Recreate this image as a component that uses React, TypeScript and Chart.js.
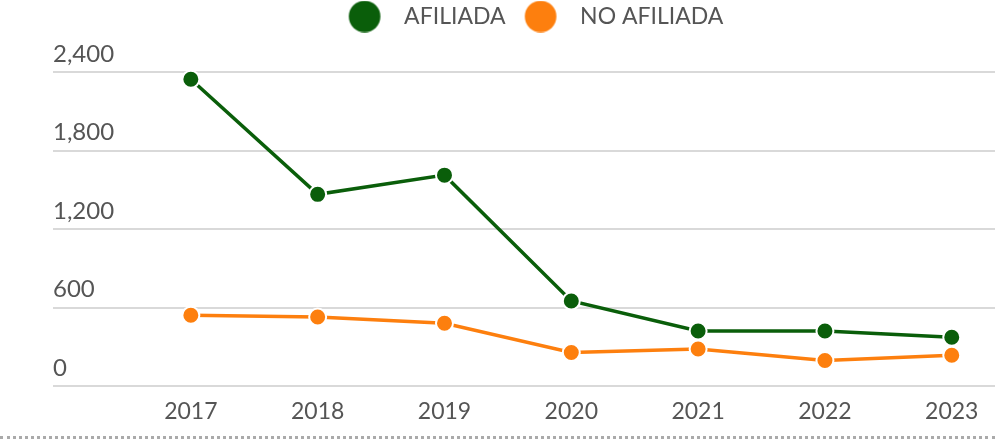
import React, { useEffect, useRef } from "react";
import { Chart, registerables } from "chart.js";

Chart.register(...registerables);

// ---- data ----
const years = ["2017", "2018", "2019", "2020", "2021", "2022", "2023"];
const afiliada = [2346, 1466, 1613, 650, 421, 421, 373];
const noAfiliada = [541, 528, 480, 256, 283, 195, 235];
const yTickValues = [0, 600, 1200, 1800, 2400];
const seriesNames = ["AFILIADA", "NO AFILIADA"];

const GREEN = "#0a5e0a";
const ORANGE = "#fd7f0e";
const TEXT = "#555555";
const FONT = "Lato, 'Open Sans', sans-serif";

function legendDot(color: string): HTMLCanvasElement {
  const c = document.createElement("canvas");
  c.width = 58;
  c.height = 32;
  const ctx = c.getContext("2d")!;
  ctx.fillStyle = color;
  ctx.beginPath();
  ctx.arc(30, 16, 15.8, 0, Math.PI * 2);
  ctx.fill();
  return c;
}

export default function App() {
  const ref = useRef<HTMLCanvasElement>(null);

  useEffect(() => {
    if (!ref.current) return;
    const dots = [legendDot(GREEN), legendDot(ORANGE)];
    const colors = [GREEN, ORANGE];
    const series = [afiliada, noAfiliada];

    const chart = new Chart(ref.current, {
      type: "line",
      data: {
        datasets: series.map((vals, s) => ({
          label: seriesNames[s],
          data: vals.map((y, i) => ({ x: i, y })),
          borderColor: colors[s],
          backgroundColor: colors[s],
          pointBackgroundColor: colors[s],
          pointBorderColor: "#ffffff",
          pointBorderWidth: 2,
          pointRadius: 8.5,
          pointHoverRadius: 8.5,
          borderWidth: 3.5,
          tension: 0,
          fill: false,
          clip: false,
        })),
      },
      options: {
        animation: false,
        responsive: false,
        devicePixelRatio: 1,
        events: [],
        layout: { autoPadding: false, padding: { left: 53, right: -10, top: 0, bottom: 0 } },
        plugins: {
          tooltip: { enabled: false },
          legend: {
            display: true,
            position: "top",
            align: "center",
            labels: {
              usePointStyle: true,
              pointStyleWidth: 58,
              padding: 5,
              color: TEXT,
              font: { size: 23, family: FONT },
              generateLabels: (c: any) => {
                const items = (Chart.defaults.plugins.legend.labels as any).generateLabels(c);
                items.forEach((it: any, i: number) => {
                  it.pointStyle = dots[i];
                });
                return items;
              },
            },
          },
        },
        scales: {
          x: {
            type: "linear",
            min: -1.087,
            max: 6.341,
            grid: { display: false, drawTicks: false },
            border: { display: false },
            ticks: {
              color: TEXT,
              font: { size: 23, family: FONT },
              padding: 12,
              autoSkip: false,
              maxRotation: 0,
              callback: (v: any) => years[v] ?? "",
            },
            afterBuildTicks: (s: any) => {
              s.ticks = years.map((_, i) => ({ value: i }));
            },
            afterFit: (s: any) => {
              s.height = 55;
              s.paddingLeft = 0;
              s.paddingRight = 0;
            },
          },
          y: {
            type: "linear",
            min: 0,
            max: 2662,
            grid: { color: "#d9d9d9", lineWidth: 2, drawTicks: false },
            border: { display: false },
            ticks: {
              mirror: true,
              padding: 0,
              labelOffset: -18,
              color: TEXT,
              font: { size: 24, family: FONT },
              callback: (v: any) => Number(v).toLocaleString("en-US"),
            },
            afterBuildTicks: (s: any) => {
              s.ticks = yTickValues.map((v) => ({ value: v }));
            },
            afterFit: (s: any) => {
              s.width = 0;
            },
          },
        },
      } as any,
    });
    return () => chart.destroy();
  }, []);

  return (
    <div
      style={{
        position: "fixed",
        left: 0,
        top: 0,
        width: 995,
        height: 441,
        background: "#ffffff",
        overflow: "hidden",
      }}
    >
      <canvas ref={ref} width={995} height={441} style={{ display: "block" }} />
      <div
        style={{
          position: "absolute",
          left: 0,
          top: 436,
          width: 995,
          height: 0,
          borderTop: "3px dotted #aaaaaa",
        }}
      />
    </div>
  );
}
